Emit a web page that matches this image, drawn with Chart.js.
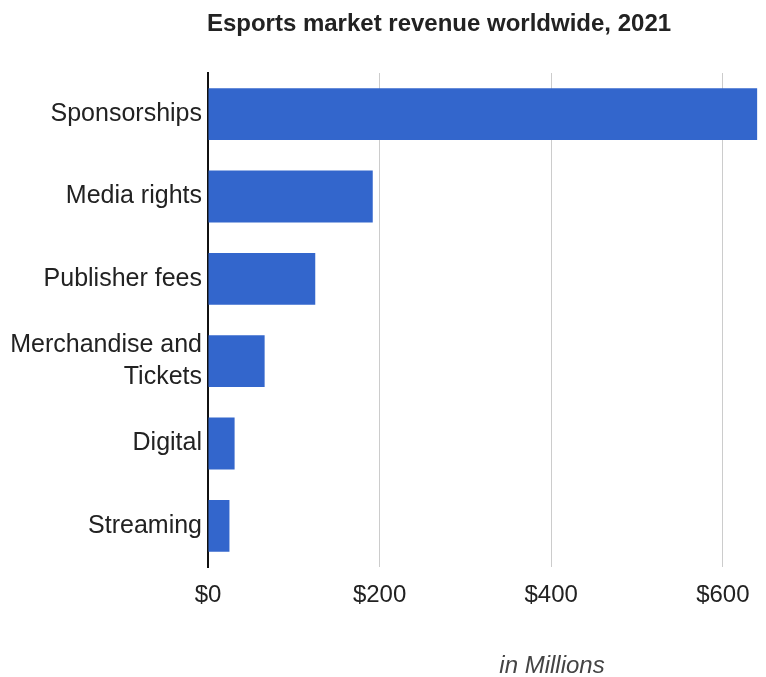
<!DOCTYPE html>
<html>
<head>
<meta charset="utf-8">
<script src="https://cdn.jsdelivr.net/npm/chart.js@4"></script>
<style>
  html, body { margin: 0; padding: 0; background: #ffffff; }
  #wrap { position: relative; width: 766px; height: 677px; }
</style>
</head>
<body>
<div id="wrap"><canvas id="chart" width="766" height="677"></canvas></div>
<script>
// Esports market revenue by segment, 2021 (US$ millions)
const categories = [
  'Sponsorships',
  'Media rights',
  'Publisher fees',
  ['Merchandise and', 'Tickets'],
  'Digital',
  'Streaming'
];
const revenue = [640, 192, 125, 66, 31, 25];
const tickValues = [0, 200, 400, 600];
const chartTitle = 'Esports market revenue worldwide, 2021';
const unitNote = 'in Millions';

const FONT = 'Arial, "Liberation Sans", sans-serif';

// Title and unit note drawn on the canvas at fixed spots
const captions = {
  id: 'captions',
  afterDraw(chart) {
    const ctx = chart.ctx;
    ctx.save();
    ctx.textAlign = 'center';
    ctx.textBaseline = 'alphabetic';
    ctx.fillStyle = '#222222';
    ctx.font = 'bold 24px ' + FONT;
    ctx.fillText(chartTitle, 439, 31);
    ctx.fillStyle = '#444444';
    ctx.font = 'italic 24px ' + FONT;
    ctx.fillText(unitNote, 552, 673);
    ctx.restore();
  }
};

new Chart(document.getElementById('chart'), {
  type: 'bar',
  data: {
    labels: categories,
    datasets: [{
      data: revenue,
      backgroundColor: '#3366cc',
      borderWidth: 0,
      categoryPercentage: 1,
      barPercentage: 0.63
    }]
  },
  options: {
    indexAxis: 'y',
    responsive: false,
    animation: false,
    events: [],
    layout: { padding: { top: 73, right: 8, bottom: 70, left: 0 } },
    plugins: {
      legend: { display: false },
      tooltip: { enabled: false }
    },
    scales: {
      x: {
        min: 0,
        max: 641,
        afterBuildTicks(scale) {
          scale.ticks = tickValues.map(v => ({ value: v }));
        },
        afterFit(scale) { scale.height = 40; },
        grid: {
          color: '#cccccc',
          lineWidth: 1,
          drawTicks: false
        },
        border: { display: false },
        ticks: {
          padding: 14,
          color: '#222222',
          font: { family: FONT, size: 24 },
          maxRotation: 0,
          callback: v => '$' + v
        }
      },
      y: {
        afterFit(scale) { scale.width = 208; },
        grid: { display: false, drawTicks: false },
        border: { display: true, color: '#111111', width: 2 },
        ticks: {
          padding: 6,
          color: '#222222',
          font: { family: FONT, size: 25, lineHeight: 1.25 }
        }
      }
    }
  },
  plugins: [captions]
});
</script>
</body>
</html>
